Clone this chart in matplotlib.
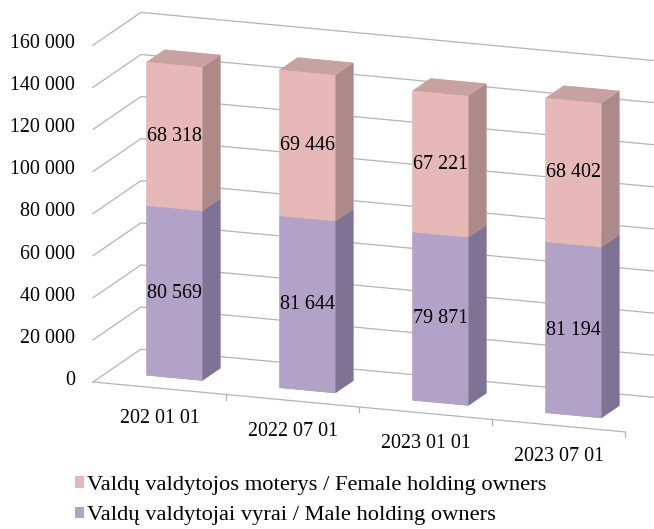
import numpy as np
import matplotlib
matplotlib.use("Agg")
import matplotlib.pyplot as plt
from matplotlib.patches import Patch
from mpl_toolkits.mplot3d import proj3d

plt.rcParams['font.family'] = ['Liberation Serif', 'DejaVu Serif']

# data
dates = ['202 01 01', '2022 07 01', '2023 01 01', '2023 07 01']
male = [80569, 81644, 79871, 81194]
female = [68318, 69446, 67221, 68402]
yticks = [0, 20000, 40000, 60000, 80000, 100000, 120000, 140000, 160000]
female_label = 'Valdų valdytojos moterys / Female holding owners'
male_label = 'Valdų valdytojai vyrai / Male holding owners'

W, H = 654, 529
fs = 14.4
grid_col = '#B4B4B4'

fig = plt.figure(figsize=(W / 100, H / 100), dpi=100)
ax = fig.add_subplot(111, projection='3d', proj_type='ortho', computed_zorder=False)
ax.set_axis_off()
ax.view_init(elev=14.7, azim=-69.7)
ax.set_xlim(0, 4)
ax.set_ylim(0, 1)
ax.set_zlim(0, 160000)
ax.set_box_aspect((567, 138, 348))

n = len(dates)

# walls: gridlines on left wall and back wall
for v in yticks:
    ax.plot([0, 0, n], [0, 1, 1], [v, v, v], color=grid_col, lw=0.9, zorder=1)
# floor front edge + ticks
ax.plot([0, n], [0, 0], [0, 0], color=grid_col, lw=0.9, zorder=1)
for k in range(1, n + 1):
    ax.plot([k, k], [0, 0], [0, -2600], color=grid_col, lw=0.9, zorder=1)

# stacked 3D bars
bw, y0, bd = 0.42, 0.31, 0.38
xs = np.arange(n) + 0.5 - bw / 2
female_faces = ['#C7A0A0', '#C8A1A1', '#E6B9B8', '#E6B9B8', '#E6B9B8', '#AD8A8A']
male_faces = ['#9C8FB2', '#9C8FB2', '#B3A2C7', '#B3A2C7', '#B3A2C7', '#7E7394']
bx, by, bz, bh, cols = [], [], [], [], []
for i in range(n):
    bx += [xs[i], xs[i]]
    by += [y0, y0]
    bz += [0, male[i]]
    bh += [male[i], female[i]]
    cols += male_faces + female_faces
ax.bar3d(bx, by, bz, bw, bd, bh, color=cols, shade=False, zorder=2,
         edgecolor='none', linewidth=0)


def fmt(v):
    return f'{v:,}'.replace(',', ' ')


def label3d(x, y, z, s, **kw):
    # put a flat text at the projected spot of a 3D point
    px, py, _ = proj3d.proj_transform(x, y, z, ax.get_proj())
    ax.text2D(px, py, s, transform=ax.transData, fontsize=fs, zorder=3, **kw)


# fit the projected box into the wanted pixel spots
def to_px(x, y, z):
    px, py, _ = proj3d.proj_transform(x, y, z, ax.get_proj())
    return ax.transData.transform((px, py))

target_a = np.array([93.0, H - 382.0])
target_b = np.array([625.0, H - 432.0])
S = 500.0
ax.set_position([0.1, 0.1, S / W, S / H])
for _ in range(3):
    fig.canvas.draw()
    a = to_px(0, 0, 0)
    b = to_px(n, 0, 0)
    S *= np.linalg.norm(target_b - target_a) / np.linalg.norm(b - a)
    pos = ax.get_position(original=True)
    ax.set_position([pos.x0, pos.y0, S / W, S / H])
    fig.canvas.draw()
    a = to_px(0, 0, 0)
    shift = target_a - a
    pos = ax.get_position(original=True)
    ax.set_position([pos.x0 + shift[0] / W, pos.y0 + shift[1] / H, S / W, S / H])

# value labels
for i in range(n):
    label3d(i + 0.5, y0, male[i] / 2, fmt(male[i]), ha='center', va='center')
    label3d(i + 0.5, y0, male[i] + female[i] / 2, fmt(female[i]), ha='center', va='center')

# axis labels
for v in yticks:
    label3d(-0.135, 0, v, fmt(v), ha='right', va='center')
for i, d in enumerate(dates):
    label3d(i + 0.5, 0, -14500, d, ha='center', va='center')

# legend
handles = [Patch(facecolor='#E6B9B8', edgecolor='none', label=female_label),
           Patch(facecolor='#B3A2C7', edgecolor='none', label=male_label)]
fig.legend(handles=handles, loc='upper left', bbox_to_anchor=(75 / W, 1 - 476 / H),
           frameon=False, fontsize=16.2, handlelength=0.4, handleheight=0.4,
           handletextpad=0.12, labelspacing=0.5, borderaxespad=0, borderpad=0)

fig.savefig('out.png', dpi=100)
